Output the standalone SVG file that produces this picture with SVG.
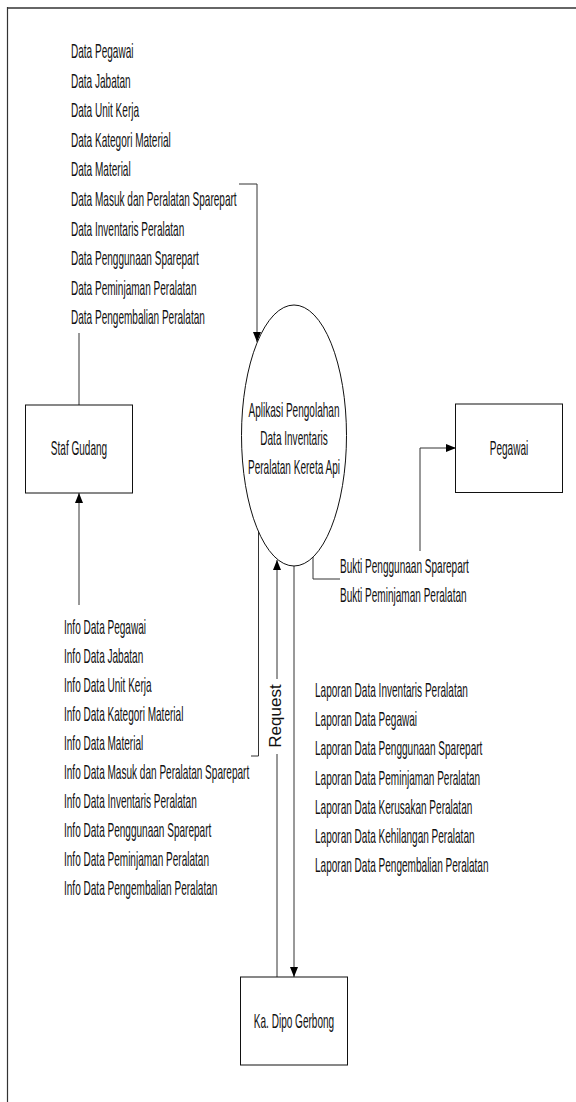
<svg xmlns="http://www.w3.org/2000/svg" width="576" height="1102" viewBox="0 0 576 1102">
  <style>
    .txt { font-family: "Liberation Sans", Arial, sans-serif; font-size: 20.5px; fill: #111; }
    .rot { font-family: "Liberation Sans", Arial, sans-serif; font-size: 17px; fill: #111; }
    .box { fill: #fff; stroke: #111; stroke-width: 1; }
    .proc { fill: #fff; stroke: #111; stroke-width: 1; }
    .flow { fill: none; stroke: #333; stroke-width: 1; }
    .frame { fill: none; stroke: #333; }
  </style>
  <defs>
    <marker id="arrow" markerUnits="userSpaceOnUse" markerWidth="10" markerHeight="8" refX="10" refY="4" orient="auto">
      <path d="M0,0 L10,4 L0,8 z" fill="#000"/>
    </marker>
  </defs>

  <rect width="576" height="1102" fill="#fff"/>

  <!-- page frame -->
  <path class="frame" d="M7,8 H576" stroke-width="1.6"/>
  <path class="frame" d="M7.5,7 V1102" stroke-width="1.2"/>

  <!-- connectors -->
  <g id="connectors">
    <!-- Staf Gudang to process -->
    <path class="flow" d="M79,405 V333"/>
    <path class="flow" d="M239,184 H257 V342" marker-end="url(#arrow)"/>
    <!-- process to Staf Gudang -->
    <path class="flow" d="M258.5,532 V756 H251"/>
    <path class="flow" d="M79,605 V493" marker-end="url(#arrow)"/>
    <!-- process to Pegawai -->
    <path class="flow" d="M313,557 V579 H340"/>
    <path class="flow" d="M420,551 V448 H456" marker-end="url(#arrow)"/>
    <!-- Ka. Dipo Gerbong to process (Request) -->
    <path class="flow" d="M277,977 V754"/>
    <path class="flow" d="M277,679 V560" marker-end="url(#arrow)"/>
    <!-- process to Ka. Dipo Gerbong -->
    <path class="flow" d="M294,566 V977" marker-end="url(#arrow)"/>

    <!-- flow labels -->
    <g transform="translate(71,0) scale(0.49,1)" class="txt">
      <text x="0" y="58">Data Pegawai</text>
      <text x="0" y="87.6">Data Jabatan</text>
      <text x="0" y="117.2">Data Unit Kerja</text>
      <text x="0" y="146.8">Data Kategori Material</text>
      <text x="0" y="176.4">Data Material</text>
      <text x="0" y="206">Data Masuk dan Peralatan Sparepart</text>
      <text x="0" y="235.6">Data Inventaris Peralatan</text>
      <text x="0" y="265.2">Data Penggunaan Sparepart</text>
      <text x="0" y="294.8">Data Peminjaman Peralatan</text>
      <text x="0" y="324.4">Data Pengembalian Peralatan</text>
    </g>
    <g transform="translate(64,0) scale(0.49,1)" class="txt">
      <text x="0" y="634">Info Data Pegawai</text>
      <text x="0" y="663">Info Data Jabatan</text>
      <text x="0" y="692">Info Data Unit Kerja</text>
      <text x="0" y="721">Info Data Kategori Material</text>
      <text x="0" y="750">Info Data Material</text>
      <text x="0" y="779">Info Data Masuk dan Peralatan Sparepart</text>
      <text x="0" y="808">Info Data Inventaris Peralatan</text>
      <text x="0" y="837">Info Data Penggunaan Sparepart</text>
      <text x="0" y="866">Info Data Peminjaman Peralatan</text>
      <text x="0" y="895">Info Data Pengembalian Peralatan</text>
    </g>
    <g transform="translate(340,0) scale(0.49,1)" class="txt">
      <text x="0" y="573">Bukti Penggunaan Sparepart</text>
      <text x="0" y="602">Bukti Peminjaman Peralatan</text>
    </g>
    <g transform="translate(315,0) scale(0.49,1)" class="txt">
      <text x="0" y="697">Laporan Data Inventaris Peralatan</text>
      <text x="0" y="726.2">Laporan Data Pegawai</text>
      <text x="0" y="755.4">Laporan Data Penggunaan Sparepart</text>
      <text x="0" y="784.6">Laporan Data Peminjaman Peralatan</text>
      <text x="0" y="813.8">Laporan Data Kerusakan Peralatan</text>
      <text x="0" y="843">Laporan Data Kehilangan Peralatan</text>
      <text x="0" y="872.2">Laporan Data Pengembalian Peralatan</text>
    </g>
    <text class="rot" transform="translate(281,716) rotate(-90)" text-anchor="middle" x="0" y="0">Request</text>
  </g>

  <!-- process -->
  <g id="process">
    <ellipse class="proc" cx="294" cy="435.5" rx="52.5" ry="130.5"/>
    <g class="txt" transform="translate(294,0) scale(0.49,1)" text-anchor="middle">
      <text x="0" y="417">Aplikasi Pengolahan</text>
      <text x="0" y="445.5">Data Inventaris</text>
      <text x="0" y="474">Peralatan Kereta Api</text>
    </g>
  </g>

  <!-- external entities -->
  <g id="staf-gudang">
    <rect class="box" x="25.5" y="405" width="107" height="88"/>
    <text class="txt" transform="translate(79,0) scale(0.49,1)" text-anchor="middle" x="0" y="455">Staf Gudang</text>
  </g>
  <g id="pegawai">
    <rect class="box" x="455.5" y="404" width="107" height="88.5"/>
    <text class="txt" transform="translate(509,0) scale(0.49,1)" text-anchor="middle" x="0" y="455">Pegawai</text>
  </g>
  <g id="ka-dipo-gerbong">
    <rect class="box" x="240.5" y="977" width="107" height="88"/>
    <text class="txt" transform="translate(294,0) scale(0.49,1)" text-anchor="middle" x="0" y="1028">Ka. Dipo Gerbong</text>
  </g>
</svg>
